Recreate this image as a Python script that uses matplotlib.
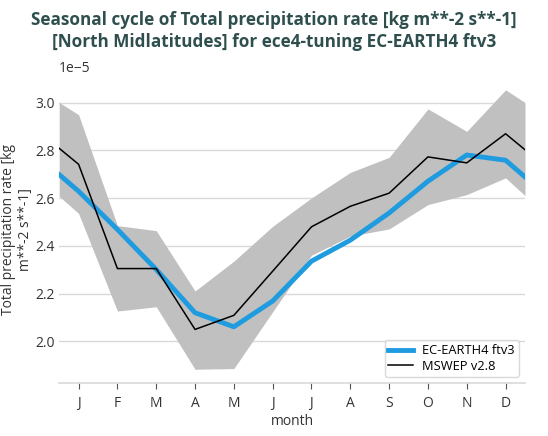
import numpy as np
import matplotlib
matplotlib.use("Agg")
import matplotlib.pyplot as plt

month_labels = ["J", "F", "M", "A", "M", "J", "J", "A", "S", "O", "N", "D"]
# values at half-month wrap points (start, end) plus 12 monthly values, in 1e-5
model = [2.699, 2.629, 2.469, 2.301, 2.120, 2.061, 2.169, 2.336, 2.424, 2.538, 2.671, 2.781, 2.759, 2.689]
obs = [2.809, 2.742, 2.305, 2.305, 2.050, 2.109, 2.294, 2.480, 2.566, 2.621, 2.773, 2.748, 2.870, 2.803]
band_hi = [3.001, 2.950, 2.485, 2.464, 2.211, 2.336, 2.482, 2.601, 2.708, 2.771, 2.974, 2.880, 3.054, 3.001]
band_lo = [2.608, 2.536, 2.127, 2.145, 1.883, 1.886, 2.124, 2.361, 2.441, 2.471, 2.573, 2.615, 2.685, 2.611]

x = np.concatenate([[0.5], np.arange(1, 13), [12.5]])
scale = 1e-5

plt.rcParams['font.family'] = ['Open Sans', 'DejaVu Sans']
fig = plt.figure(figsize=(5.48, 4.36), dpi=100)
ax = fig.add_axes([0.108, 0.121, 0.85, 0.705])

ax.fill_between(x, np.array(band_lo) * scale, np.array(band_hi) * scale,
                color="#c0c0c0", linewidth=0, zorder=1)
ax.plot(x, np.array(model) * scale, color="#1f9be0", lw=3.5, label="EC-EARTH4 ftv3", zorder=3)
ax.plot(x, np.array(obs) * scale, color="black", lw=1.1, label="MSWEP v2.8", zorder=4)

ax.set_xlim(0.5, 12.5)
ax.set_xticks(np.arange(1, 13))
ax.set_xticklabels(month_labels)
ax.set_yticks(np.arange(2.0, 3.01, 0.2) * scale)
ax.yaxis.grid(True, color="#d9d9d9", lw=1.0, zorder=0)
ax.set_axisbelow(True)
for s in ["top", "right", "left"]:
    ax.spines[s].set_visible(False)
ax.spines["bottom"].set_color("#d9d9d9")
ax.spines["bottom"].set_linewidth(1.2)
ax.tick_params(axis="y", length=0, labelsize=10, colors="#333333", pad=3)
ax.tick_params(axis="x", length=4, color="#555555", labelsize=10, labelcolor="#333333", pad=5)
ax.yaxis.get_offset_text().set_fontsize(10)
ax.yaxis.get_offset_text().set_color("#333333")

ax.set_xlabel("month", fontsize=10, color="#333333", labelpad=2)
ax.set_ylabel("Total precipitation rate [kg\nm**-2 s**-1]", fontsize=10, color="#333333",
              labelpad=2, linespacing=1.15)
fig.suptitle("Seasonal cycle of Total precipitation rate [kg m**-2 s**-1]\n[North Midlatitudes] for ece4-tuning EC-EARTH4 ftv3",
             fontsize=12.3, fontweight="bold", color="#2f4f4f", y=0.975, linespacing=1.3)

leg = ax.legend(loc="lower right", fontsize=9.3, frameon=True, fancybox=True, borderaxespad=0.5,
                handlelength=1.9, borderpad=0.3, labelspacing=0.2, handletextpad=0.7)
leg.get_frame().set_edgecolor("#d0d0d0")

fig.savefig("out.png", dpi=100)
